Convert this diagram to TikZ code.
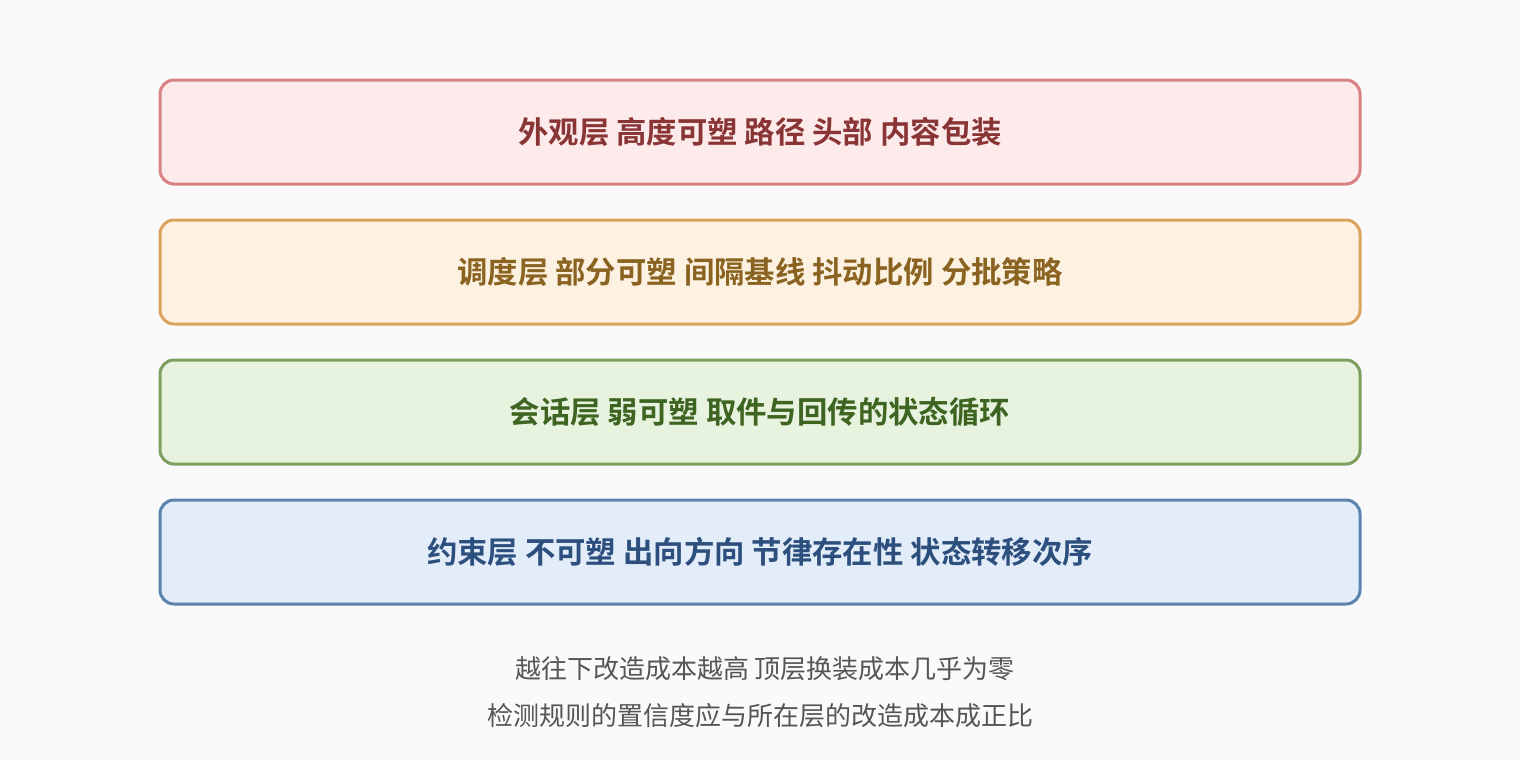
\documentclass[tikz,border=0pt]{standalone}
\usepackage{fontspec}
\newfontfamily\cjk{Noto Sans CJK SC}
\newfontfamily\cjkb{Noto Sans CJK SC Bold}
\definecolor{bg}{HTML}{FAFAFC}
\definecolor{rfill}{HTML}{FDEBEC}
\definecolor{rline}{HTML}{D88282}
\definecolor{rtext}{HTML}{8A3535}
\definecolor{ofill}{HTML}{FDF2E1}
\definecolor{oline}{HTML}{D9A55C}
\definecolor{otext}{HTML}{8A6320}
\definecolor{gfill}{HTML}{E8F3DF}
\definecolor{gline}{HTML}{7E9F5E}
\definecolor{gtext}{HTML}{3E6421}
\definecolor{bfill}{HTML}{E2EDF9}
\definecolor{bline}{HTML}{5A83AE}
\definecolor{btext}{HTML}{2C4F7E}
\definecolor{note}{HTML}{555555}
\begin{document}
\begin{tikzpicture}[x=0.75pt,y=-0.75pt,
  layer/.style={draw, line width=2.25pt, rounded corners=10.5pt,
    minimum width=1200*0.75pt, minimum height=104*0.75pt, inner sep=0pt,
    font=\cjkb\fontsize{22.8}{27}\selectfont},
  notetext/.style={text=note, font=\cjk\fontsize{19.5}{23}\selectfont, inner sep=0pt}]
\fill[bg] (0,0) rectangle (1520,760);
\useasboundingbox (0,0) rectangle (1520,760);
\node[layer, fill=rfill, draw=rline, text=rtext] (l1) at (760,132) {外观层 高度可塑 路径 头部 内容包装};
\node[layer, fill=ofill, draw=oline, text=otext] (l2) at (760,272) {调度层 部分可塑 间隔基线 抖动比例 分批策略};
\node[layer, fill=gfill, draw=gline, text=gtext] (l3) at (760,412) {会话层 弱可塑 取件与回传的状态循环};
\node[layer, fill=bfill, draw=bline, text=btext] (l4) at (760,552) {约束层 不可塑 出向方向 节律存在性 状态转移次序};
\node[notetext] (n1) at (765,669) {越往下改造成本越高 顶层换装成本几乎为零};
\node[notetext] (n2) at (760,716) {检测规则的置信度应与所在层的改造成本成正比};
\end{tikzpicture}
\end{document}
